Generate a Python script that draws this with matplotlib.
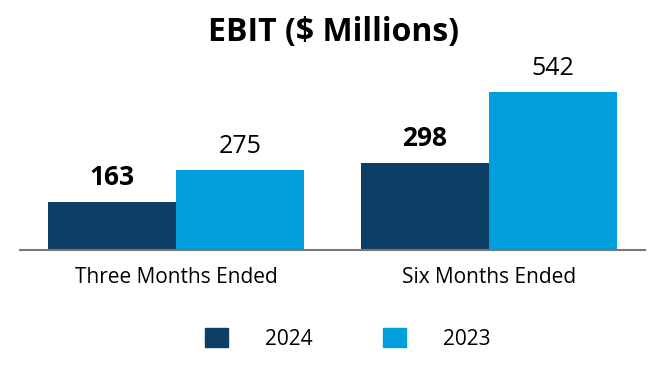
import matplotlib.pyplot as plt
import numpy as np
from matplotlib.patches import Patch

plt.rcParams['font.family'] = ['Open Sans', 'DejaVu Sans']

categories = ["Three Months Ended", "Six Months Ended"]
ebit_2024 = [163, 298]
ebit_2023 = [275, 542]
series_names = ["2024", "2023"]

dark = "#0d3f66"
light = "#009fdb"

fig = plt.figure(figsize=(6.66, 3.8), dpi=100)
ax = fig.add_axes([20 / 666, 130 / 380, 625 / 666, 175 / 380])

x = np.arange(len(categories))
w = 0.41
b1 = ax.bar(x - w / 2, ebit_2024, w, color=dark)
b2 = ax.bar(x + w / 2, ebit_2023, w, color=light)

ax.bar_label(b1, fontsize=19, fontweight="bold", padding=8)
ax.bar_label(b2, fontsize=18, padding=8)

ax.set_xlim(-0.5, 1.5)
ax.set_ylim(0, 600)
ax.set_xticks(x)
ax.set_xticklabels(categories, fontsize=15)
ax.tick_params(axis="x", length=0, pad=12)
ax.set_yticks([])
for s in ["top", "left", "right"]:
    ax.spines[s].set_visible(False)
ax.spines["bottom"].set_color("#777777")
ax.spines["bottom"].set_linewidth(1.5)

fig.text(0.5, 1 - 33 / 380, "EBIT ($ Millions)", ha="center", va="center",
         fontsize=23, fontweight="bold")

handles = [Patch(color=dark), Patch(color=light)]
fig.legend(handles, series_names, loc="center", bbox_to_anchor=(0.5 + 15 / 666, 1 - 339 / 380),
           ncol=2, frameon=False, fontsize=15, handlelength=1.06, handleheight=1.0,
           handletextpad=1.8, columnspacing=3.4)

fig.savefig("out.png", dpi=100)
